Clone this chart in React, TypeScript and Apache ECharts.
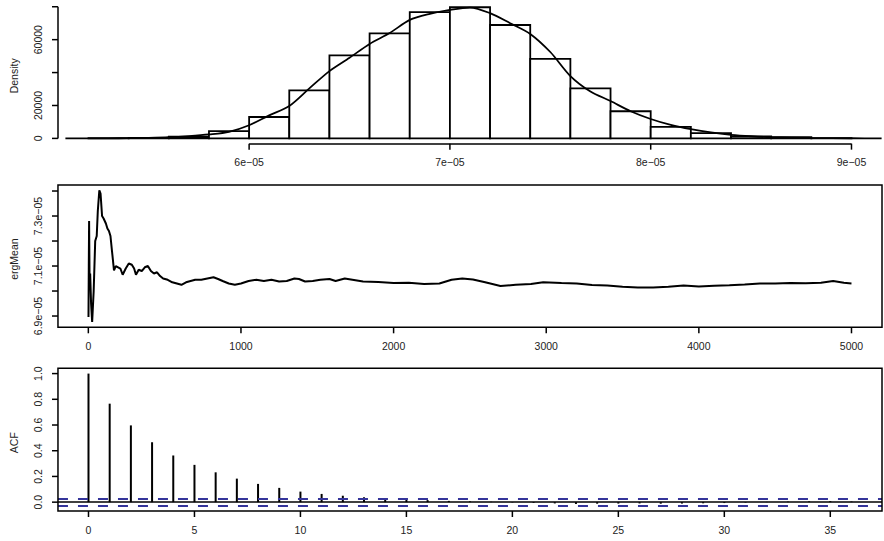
import React, { useEffect, useRef } from 'react';
import * as echarts from 'echarts';

// ---------- data ----------
const histBreaks = [
  5.2e-5, 5.4e-5, 5.6e-5, 5.8e-5, 6.0e-5, 6.2e-5, 6.4e-5, 6.6e-5, 6.8e-5, 7.0e-5,
  7.2e-5, 7.4e-5, 7.6e-5, 7.8e-5, 8.0e-5, 8.2e-5, 8.4e-5, 8.6e-5, 8.8e-5, 9.0e-5,
];
const histDensity = [
  100, 300, 1000, 4400, 13000, 29200, 50500, 63800, 76700, 79700,
  68900, 48300, 30400, 16500, 7000, 3200, 1200, 700, 200,
];
const densityX = [
  5.085e-5, 5.3e-5, 5.4e-5, 5.5e-5, 5.6e-5, 5.7e-5, 5.8e-5, 5.9e-5, 6.0e-5, 6.1e-5,
  6.2e-5, 6.3e-5, 6.4e-5, 6.5e-5, 6.6e-5, 6.7e-5, 6.8e-5, 6.9e-5, 7.0e-5, 7.1e-5,
  7.2e-5, 7.3e-5, 7.4e-5, 7.5e-5, 7.6e-5, 7.7e-5, 7.8e-5, 7.9e-5, 8.0e-5, 8.1e-5,
  8.2e-5, 8.3e-5, 8.4e-5, 8.5e-5, 8.6e-5, 8.8e-5, 9.0e-5, 9.15e-5,
];
const densityY = [
  0, 60, 150, 350, 700, 1400, 2400, 4000, 8000, 14000,
  19700, 30400, 40900, 49000, 57400, 64000, 72000, 75700, 78100, 79500,
  76100, 70000, 63500, 52500, 37900, 28500, 22700, 16500, 11800, 8200,
  5600, 3600, 2200, 1300, 700, 250, 80, 20,
];

const ergIter = [
  1, 3, 5, 8, 12, 18, 25, 35, 45, 55, 62, 72, 80, 90, 100, 115, 125, 135, 145, 155,
  168, 180, 195, 210, 225, 245, 265, 285, 300, 312, 330, 350, 370, 390, 410, 430, 450, 470, 490, 520,
  550, 580, 610, 640, 670, 700, 740, 780, 820, 850, 880, 920, 960, 1000, 1050, 1100, 1150, 1200, 1250, 1300,
  1350, 1380, 1420, 1470, 1520, 1580, 1620, 1680, 1720, 1800, 1900, 2000, 2100, 2200, 2300, 2380, 2450, 2520, 2600, 2700,
  2800, 2900, 2980, 3100, 3200, 3300, 3400, 3500, 3600, 3700, 3800, 3900, 4000, 4100, 4200, 4300, 4400, 4500, 4600, 4700,
  4800, 4880, 4950, 5000,
];
const ergMean = [
  6.896e-5, 7.1e-5, 7.28e-5, 7.05e-5, 7.07e-5, 6.95e-5, 6.876e-5, 7.0e-5, 7.2e-5, 7.22e-5,
  7.32e-5, 7.403e-5, 7.39e-5, 7.3e-5, 7.29e-5, 7.27e-5, 7.25e-5, 7.24e-5, 7.22e-5, 7.16e-5,
  7.083e-5, 7.1e-5, 7.095e-5, 7.09e-5, 7.065e-5, 7.09e-5, 7.11e-5, 7.105e-5, 7.09e-5, 7.065e-5,
  7.085e-5, 7.08e-5, 7.095e-5, 7.1e-5, 7.08e-5, 7.07e-5, 7.075e-5, 7.06e-5, 7.05e-5, 7.045e-5,
  7.035e-5, 7.03e-5, 7.025e-5, 7.035e-5, 7.04e-5, 7.045e-5, 7.045e-5, 7.05e-5, 7.055e-5, 7.048e-5,
  7.04e-5, 7.03e-5, 7.025e-5, 7.03e-5, 7.04e-5, 7.045e-5, 7.04e-5, 7.045e-5, 7.038e-5, 7.04e-5,
  7.05e-5, 7.048e-5, 7.038e-5, 7.04e-5, 7.045e-5, 7.048e-5, 7.04e-5, 7.05e-5, 7.046e-5, 7.038e-5,
  7.036e-5, 7.032e-5, 7.033e-5, 7.028e-5, 7.03e-5, 7.045e-5, 7.05e-5, 7.046e-5, 7.035e-5, 7.02e-5,
  7.025e-5, 7.028e-5, 7.035e-5, 7.032e-5, 7.03e-5, 7.024e-5, 7.022e-5, 7.017e-5, 7.014e-5, 7.014e-5,
  7.017e-5, 7.022e-5, 7.018e-5, 7.021e-5, 7.023e-5, 7.026e-5, 7.03e-5, 7.03e-5, 7.032e-5, 7.031e-5,
  7.033e-5, 7.04e-5, 7.033e-5, 7.03e-5,
];
const nIter = 5000;

const acfLags = [
  0, 1, 2, 3, 4, 5, 6, 7, 8, 9, 10, 11, 12, 13, 14, 15, 16, 17, 18,
  19, 20, 21, 22, 23, 24, 25, 26, 27, 28, 29, 30, 31, 32, 33, 34, 35, 36,
];
const acfValues = [
  1.0, 0.766, 0.597, 0.466, 0.363, 0.29, 0.232, 0.183, 0.142, 0.111, 0.082, 0.064, 0.05, 0.038, 0.024, 0.019, 0.016, 0.01, 0.006,
  0.003, -0.003, -0.006, -0.01, -0.014, -0.012, -0.011, -0.01, -0.012, -0.011, -0.009, -0.007, -0.004, 0.002, 0.004, 0.006, 0.008, 0.005,
];

const histXTicks = [6e-5, 7e-5, 8e-5, 9e-5];
const histYTicks = [0, 20000, 40000, 60000, 80000];
const histYLabels = [0, 20000, 60000];
const ergXTicks = [0, 1000, 2000, 3000, 4000, 5000];
const ergYTicks = [6.9e-5, 7.0e-5, 7.1e-5, 7.2e-5, 7.3e-5, 7.4e-5];
const ergYLabels = [6.9e-5, 7.1e-5, 7.3e-5];
const acfXTicks = [0, 5, 10, 15, 20, 25, 30, 35];
const acfYTicks = [0, 0.2, 0.4, 0.6, 0.8, 1.0];

// ---------- layout ----------
const FONT = 'Liberation Sans, Arial, Helvetica, sans-serif';
const TXT = '#222';
const FS = 10.5;
const TICK_LEN = 6;
const PLOT_LEFT = 55;
const PLOT_W = 827;
const PLOTS = [
  { top: 1, height: 142.6 },
  { top: 185, height: 142.3 },
  { top: 368.3, height: 142.7 },
];
// each grid is padded so the outward tick marks lie inside it
const PAD_L = 8, PAD_B = 8, PAD_T = 2, PAD_R = 2;

function sci(v: number): string {
  if (v === 0) return '0';
  const [m, e] = v.toExponential().split('e');
  const en = parseInt(e, 10);
  const mant = parseFloat(Number(m).toFixed(6));
  return `${mant}e${en < 0 ? '\u2212' : '+'}${String(Math.abs(en)).padStart(2, '0')}`;
}
function ext(lo: number, hi: number) {
  const d = (hi - lo) * 0.04;
  return [lo - d, hi + d];
}

export default function App() {
  const ref = useRef<HTMLDivElement>(null);
  useEffect(() => {
    if (!ref.current) return;
    const chart = echarts.init(ref.current, undefined, { renderer: 'svg' });

    const [hxMin, hxMax] = ext(histBreaks[0], histBreaks[histBreaks.length - 1]);
    const [hyMin, hyMax] = ext(0, Math.max(...histDensity));
    const [exMin, exMax] = ext(1, nIter);
    const [eyMin, eyMax] = ext(Math.min(...ergMean), Math.max(...ergMean));
    const clim = 1.96 / Math.sqrt(nIter);
    const [axMin, axMax] = ext(acfLags[0], acfLags[acfLags.length - 1]);
    const [ayMin, ayMax] = ext(Math.min(-clim, ...acfValues), Math.max(clim, ...acfValues));
    const ranges = [
      { x: [hxMin, hxMax], y: [hyMin, hyMax] },
      { x: [exMin, exMax], y: [eyMin, eyMax] },
      { x: [axMin, axMax], y: [ayMin, ayMax] },
    ];
    const padded = ranges.map((r, i) => {
      const sx = (r.x[1] - r.x[0]) / PLOT_W;
      const sy = (r.y[1] - r.y[0]) / PLOTS[i].height;
      return {
        x: [r.x[0] - PAD_L * sx, r.x[1] + PAD_R * sx],
        y: [r.y[0] - PAD_B * sy, r.y[1] + PAD_T * sy],
      };
    });

    const labelStyle = { color: TXT, fontFamily: FONT, fontSize: FS };

    const xAx = (gi: number, ticks: number[], fmt: (v: number) => string) => ({
      type: 'value', gridIndex: gi, min: padded[gi].x[0], max: padded[gi].x[1], position: 'bottom',
      axisLine: { show: false, onZero: false },
      axisTick: { show: false },
      axisLabel: { ...labelStyle, margin: 13 - PAD_B, customValues: ticks, formatter: fmt },
      splitLine: { show: false },
    });
    const yAx = (gi: number, labels: number[], fmt: (v: number) => string, name: string) => ({
      type: 'value', gridIndex: gi, min: padded[gi].y[0], max: padded[gi].y[1], position: 'left',
      name, nameLocation: 'middle', nameRotate: 90, nameGap: 39 - PAD_L,
      nameTextStyle: { ...labelStyle },
      axisLine: { show: false, onZero: false },
      axisTick: { show: false },
      axisLabel: { ...labelStyle, margin: 15 - PAD_L, rotate: 90, customValues: labels, formatter: fmt },
      splitLine: { show: false },
    });

    const xTickSeries = (gi: number, ticks: number[]) => ({
      type: 'custom', xAxisIndex: gi, yAxisIndex: gi, silent: true, z: 5,
      data: ticks.map((v) => [v, ranges[gi].y[0]]),
      renderItem: (_p: any, api: any) => {
        const p = api.coord([api.value(0), api.value(1)]);
        return {
          type: 'line',
          shape: { x1: p[0], y1: p[1], x2: p[0], y2: p[1] + TICK_LEN },
          style: { stroke: '#000', lineWidth: 1.5 },
        };
      },
    });
    const yTickSeries = (gi: number, ticks: number[]) => ({
      type: 'custom', xAxisIndex: gi, yAxisIndex: gi, silent: true, z: 5,
      data: ticks.map((v) => [ranges[gi].x[0], v]),
      renderItem: (_p: any, api: any) => {
        const p = api.coord([api.value(0), api.value(1)]);
        return {
          type: 'line',
          shape: { x1: p[0], y1: p[1], x2: p[0] - TICK_LEN, y2: p[1] },
          style: { stroke: '#000', lineWidth: 1.5 },
        };
      },
    });
    const frameSeries = (gi: number) => ({
      type: 'custom', xAxisIndex: gi, yAxisIndex: gi, silent: true, z: 6,
      data: [[ranges[gi].x[0], ranges[gi].y[0], ranges[gi].x[1], ranges[gi].y[1]]],
      renderItem: (_p: any, api: any) => {
        const a = api.coord([api.value(0), api.value(1)]);
        const b = api.coord([api.value(2), api.value(3)]);
        return {
          type: 'rect',
          shape: { x: a[0], y: b[1], width: b[0] - a[0], height: a[1] - b[1] },
          style: { fill: 'none', stroke: '#000', lineWidth: 1.5 },
        };
      },
    });

    chart.setOption({
      animation: false,
      backgroundColor: '#fff',
      grid: PLOTS.map((g) => ({
        left: PLOT_LEFT - PAD_L, right: 2 - PAD_R, top: g.top - PAD_T, height: g.height + PAD_T + PAD_B,
        show: false,
      })),
      xAxis: [
        xAx(0, histXTicks, sci),
        xAx(1, ergXTicks, (v) => String(v)),
        xAx(2, acfXTicks, (v) => String(v)),
      ],
      yAxis: [
        yAx(0, histYLabels, (v) => String(v), 'Density'),
        yAx(1, ergYLabels, sci, 'ergMean'),
        yAx(2, acfYTicks, (v) => v.toFixed(1), 'ACF'),
      ],
      series: [
        {
          type: 'custom', xAxisIndex: 0, yAxisIndex: 0,
          data: histDensity.map((d, i) => [histBreaks[i], histBreaks[i + 1], d]),
          renderItem: (_p: any, api: any) => {
            const a = api.coord([api.value(0), 0]);
            const b = api.coord([api.value(1), api.value(2)]);
            return {
              type: 'rect',
              shape: { x: a[0], y: b[1], width: b[0] - a[0], height: a[1] - b[1] },
              style: { fill: '#fff', stroke: '#000', lineWidth: 1.8 },
            };
          },
        },
        {
          type: 'line', xAxisIndex: 0, yAxisIndex: 0,
          data: densityX.map((x, i) => [x, densityY[i]]),
          smooth: 0.3, showSymbol: false, silent: true,
          lineStyle: { color: '#000', width: 1.8 },
          markLine: {
            silent: true, symbol: ['none', 'none'], label: { show: false },
            lineStyle: { color: '#000', width: 1.5, type: 'solid' },
            data: [
              [{ coord: [histXTicks[0], hyMin] }, { coord: [histXTicks[histXTicks.length - 1], hyMin] }],
              [{ coord: [hxMin, histYTicks[0]] }, { coord: [hxMin, histYTicks[histYTicks.length - 1]] }],
            ],
          },
        },
        xTickSeries(0, histXTicks),
        yTickSeries(0, histYTicks),
        {
          type: 'line', xAxisIndex: 1, yAxisIndex: 1,
          data: ergIter.map((x, i) => [x, ergMean[i]]),
          showSymbol: false, silent: true,
          lineStyle: { color: '#000', width: 2 },
        },
        frameSeries(1),
        xTickSeries(1, ergXTicks),
        yTickSeries(1, ergYTicks),
        {
          type: 'custom', xAxisIndex: 2, yAxisIndex: 2,
          data: acfLags.map((l, i) => [l, acfValues[i]]),
          renderItem: (_p: any, api: any) => {
            const a = api.coord([api.value(0), 0]);
            const b = api.coord([api.value(0), api.value(1)]);
            return {
              type: 'line',
              shape: { x1: a[0], y1: a[1], x2: b[0], y2: b[1] },
              style: { stroke: '#000', lineWidth: 2 },
            };
          },
          markLine: {
            silent: true, symbol: ['none', 'none'], label: { show: false },
            data: [
              [
                { coord: [axMin, 0], lineStyle: { color: '#000', width: 1.5, type: 'solid' } },
                { coord: [axMax, 0] },
              ],
              [
                { coord: [axMin, clim], lineStyle: { color: '#34349a', width: 2, type: [10, 10] } },
                { coord: [axMax, clim] },
              ],
              [
                { coord: [axMin, -clim], lineStyle: { color: '#34349a', width: 2, type: [10, 10] } },
                { coord: [axMax, -clim] },
              ],
            ],
          },
        },
        frameSeries(2),
        xTickSeries(2, acfXTicks),
        yTickSeries(2, acfYTicks),
      ],
    });

    return () => chart.dispose();
  }, []);
  return <div ref={ref} style={{ position: 'fixed', left: 0, top: 0, width: 884, height: 541, background: '#fff' }} />;
}
